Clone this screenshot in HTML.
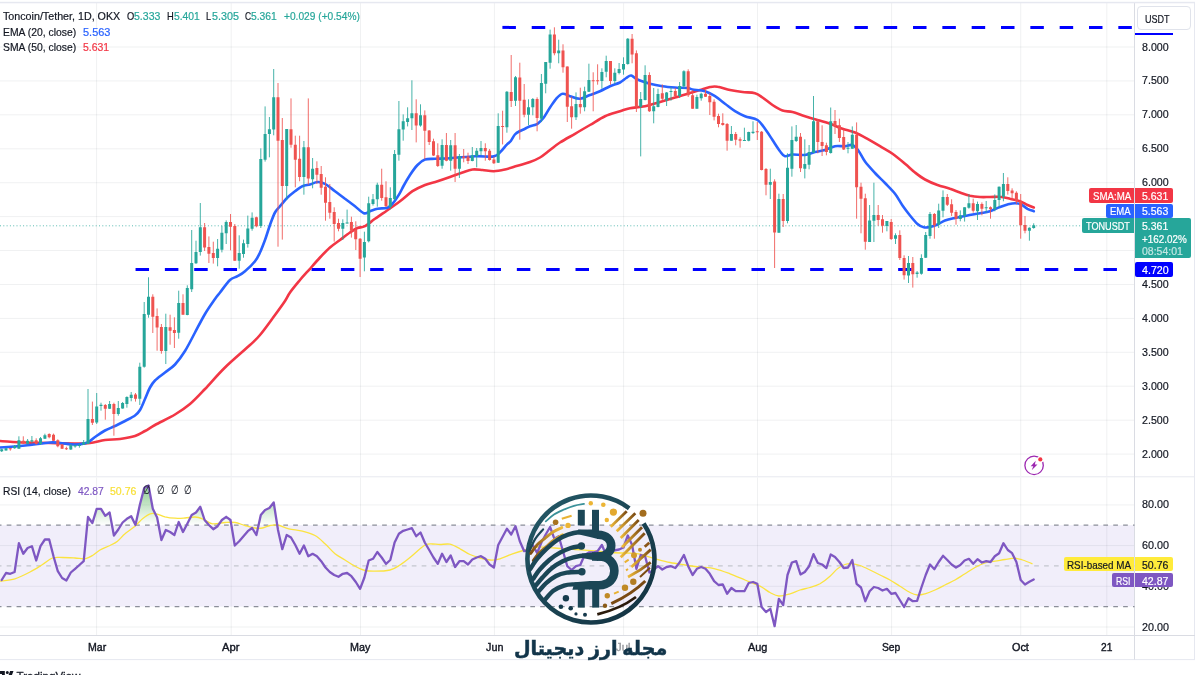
<!DOCTYPE html><html><head><meta charset="utf-8"><title>TONUSDT chart</title><style>
*{margin:0;padding:0;box-sizing:border-box}
html,body{width:1200px;height:675px;overflow:hidden;background:#fff}
body{font-family:"Liberation Sans","DejaVu Sans",sans-serif;color:#131722;position:relative}
#c{position:absolute;left:0;top:0;width:1200px;height:675px;overflow:hidden}
.t{position:absolute;white-space:nowrap;-webkit-text-stroke:0.2px currentColor;font-size:11px;line-height:14px;height:14px;transform-origin:0 50%}
.g{color:#26a69a}.b{color:#2962ff}.r{color:#f23645}.p{color:#7e57c2}.y{color:#f7df35}.w{color:#fff}
.bx{position:absolute;z-index:2}
.t{z-index:3}
.t.ax{z-index:1}
#fa{position:absolute;z-index:5;height:30px;line-height:30px;font-family:"DejaVu Sans",sans-serif;font-weight:bold;color:#12354a;direction:rtl;white-space:nowrap;word-spacing:-2px;transform-origin:0 50%;-webkit-text-stroke:0.5px #12354a}
</style></head><body><div id="c">
<svg width="1200" height="675" viewBox="0 0 1200 675" style="position:absolute;left:0;top:0">
<defs><linearGradient id="ob" gradientUnits="userSpaceOnUse" x1="0" y1="480" x2="0" y2="525.3"><stop offset="0" stop-color="#4caf50" stop-opacity="0.72"/><stop offset="1" stop-color="#4caf50" stop-opacity="0"/></linearGradient>
<clipPath id="above70"><rect x="0" y="477" width="1135" height="48.2"/></clipPath>
<linearGradient id="gold" x1="0" y1="1" x2="1" y2="0"><stop offset="0" stop-color="#7a4a12"/><stop offset="1" stop-color="#f0bb3a"/></linearGradient>
<linearGradient id="gold2" x1="0" y1="0" x2="1" y2="0"><stop offset="0" stop-color="#f0bb3a"/><stop offset="1" stop-color="#7a4a12"/></linearGradient>
<linearGradient id="teal" x1="0" y1="0" x2="1" y2="1"><stop offset="0" stop-color="#245a68"/><stop offset="1" stop-color="#12303f"/></linearGradient>
</defs>
<rect width="1200" height="675" fill="#fff"/>
<rect x="0" y="525.2" width="1134.5" height="81.4" fill="#f1eefa"/>
<path d="M96.6,3V476 M96.6,477.5V635 M231.2,3V476 M231.2,477.5V635 M360.5,3V476 M360.5,477.5V635 M494.4,3V476 M494.4,477.5V635 M623.6,3V476 M623.6,477.5V635 M757.5,3V476 M757.5,477.5V635 M891.6,3V476 M891.6,477.5V635 M1020.7,3V476 M1020.7,477.5V635 M1106.8,3V476 M1106.8,477.5V635 M0,47.0H1134.5 M0,80.9H1134.5 M0,114.8H1134.5 M0,148.8H1134.5 M0,182.7H1134.5 M0,216.6H1134.5 M0,250.5H1134.5 M0,284.5H1134.5 M0,318.4H1134.5 M0,352.3H1134.5 M0,386.2H1134.5 M0,420.2H1134.5 M0,454.1H1134.5 M0,504.9H1134.5 M0,545.6H1134.5 M0,586.3H1134.5 M0,627.0H1134.5" stroke="#2a3a4a" stroke-opacity="0.07" stroke-width="1" fill="none"/>
<path d="M1194.5,2.5V659.5 M0,659.6H1195" stroke="#e6e8f0" stroke-width="1" fill="none"/>
<path d="M0,476.8H1195" stroke="#e7e9ef" stroke-width="1" fill="none"/>
<path d="M0,635.5H1195 M1134.5,3V659.5" stroke="#dadce3" stroke-width="1" fill="none"/>
<rect x="0" y="1.8" width="1195" height="1.5" fill="#e6e8f0"/>
<path d="M0,225.8H1134" stroke="#26a69a" stroke-width="1" stroke-dasharray="1 2.3" opacity="0.75" fill="none"/>
<path d="M502.4,27.4H1134.5" stroke="#0000ff" stroke-width="3" stroke-dasharray="13.5 15.83" fill="none"/>
<path d="M135.55,269.4H1118" stroke="#0000ff" stroke-width="3" stroke-dasharray="13.5 15.83" fill="none"/>
<path d="M0.0,441.0 C4.2,441.2 16.7,442.2 25.0,442.5 C33.3,442.8 41.7,442.8 50.0,443.0 C58.3,443.2 68.3,443.5 75.0,443.5 C81.7,443.5 85.0,443.6 90.0,443.0 C95.0,442.4 100.0,440.7 105.0,440.0 C110.0,439.3 115.0,439.7 120.0,439.0 C125.0,438.3 130.8,437.3 135.0,436.0 C139.2,434.7 141.7,432.8 145.0,431.0 C148.3,429.2 150.0,427.8 155.0,425.0 C160.0,422.2 169.2,418.0 175.0,414.5 C180.8,411.0 185.0,408.2 190.0,404.0 C195.0,399.8 199.2,395.1 205.0,389.0 C210.8,382.9 217.5,374.8 225.0,367.5 C232.5,360.2 244.2,350.4 250.0,345.0 C255.8,339.6 255.8,340.0 260.0,335.0 C264.2,330.0 270.8,320.7 275.0,315.0 C279.2,309.3 282.5,304.8 285.0,301.0 C287.5,297.2 287.5,296.0 290.0,292.5 C292.5,289.0 296.7,284.0 300.0,280.0 C303.3,276.0 306.7,272.5 310.0,268.8 C313.3,265.0 316.7,261.0 320.0,257.5 C323.3,254.0 326.7,250.4 330.0,247.5 C333.3,244.6 336.7,242.5 340.0,240.0 C343.3,237.5 347.1,234.5 350.0,232.5 C352.9,230.5 355.0,229.0 357.5,228.0 C360.0,227.0 362.1,227.8 365.0,226.2 C367.9,224.7 371.4,221.3 375.0,218.8 C378.6,216.2 382.5,213.6 386.7,210.7 C390.9,207.8 395.7,204.5 400.0,201.3 C404.3,198.1 408.3,194.0 412.5,191.2 C416.7,188.5 420.8,186.7 425.0,185.0 C429.2,183.3 433.3,182.6 437.5,181.2 C441.7,179.9 445.8,178.5 450.0,177.0 C454.2,175.5 458.8,173.8 462.5,172.5 C466.2,171.2 469.2,169.9 472.5,169.5 C475.8,169.1 479.0,169.7 482.5,170.0 C486.0,170.3 490.0,171.3 493.8,171.2 C497.5,171.2 501.0,170.4 505.0,169.5 C509.0,168.6 513.3,167.0 517.5,165.8 C521.7,164.5 526.2,163.4 530.0,162.0 C533.8,160.6 536.7,159.5 540.0,157.5 C543.3,155.5 546.7,152.5 550.0,150.0 C553.3,147.5 555.8,145.2 560.0,142.5 C564.2,139.8 570.0,136.7 575.0,133.8 C580.0,130.8 585.0,127.9 590.0,125.0 C595.0,122.1 600.0,118.5 605.0,116.2 C610.0,114.0 615.8,112.6 620.0,111.2 C624.2,109.9 625.8,109.1 630.0,108.2 C634.2,107.4 640.0,107.3 645.0,106.2 C650.0,105.2 655.0,103.5 660.0,102.0 C665.0,100.5 670.0,99.0 675.0,97.5 C680.0,96.0 685.8,94.2 690.0,93.0 C694.2,91.8 696.7,91.0 700.0,90.0 C703.3,89.0 707.1,87.5 710.0,87.0 C712.9,86.5 714.2,86.2 717.5,86.8 C720.8,87.2 725.8,89.1 730.0,90.0 C734.2,90.9 738.3,91.5 742.5,92.0 C746.7,92.5 751.7,92.3 755.0,93.2 C758.3,94.2 759.6,95.5 762.5,97.5 C765.4,99.5 769.2,102.8 772.5,105.0 C775.8,107.2 779.2,109.3 782.5,110.5 C785.8,111.7 788.8,111.0 792.5,112.0 C796.2,113.0 800.8,114.9 805.0,116.2 C809.2,117.6 813.3,118.8 817.5,120.0 C821.7,121.2 825.8,122.3 830.0,123.8 C834.2,125.2 838.3,127.3 842.5,128.8 C846.7,130.2 850.8,130.8 855.0,132.5 C859.2,134.2 863.3,136.5 867.5,138.8 C871.7,141.0 875.8,143.8 880.0,146.2 C884.2,148.8 888.3,150.8 892.5,153.8 C896.7,156.7 901.2,160.6 905.0,163.8 C908.8,166.9 911.7,169.9 915.0,172.5 C918.3,175.1 921.2,177.4 925.0,179.5 C928.8,181.6 933.3,183.5 937.5,185.0 C941.7,186.5 946.2,187.5 950.0,188.8 C953.8,190.0 956.7,191.3 960.0,192.5 C963.3,193.7 966.7,195.0 970.0,195.8 C973.3,196.5 976.7,196.8 980.0,197.0 C983.3,197.2 986.7,197.0 990.0,197.0 C993.3,197.0 996.7,196.5 1000.0,196.8 C1003.3,197.0 1006.7,198.0 1010.0,198.8 C1013.3,199.5 1017.1,200.2 1020.0,201.2 C1022.9,202.3 1025.2,204.0 1027.5,205.0 C1029.8,206.0 1032.7,207.1 1033.8,207.5" stroke="#f23645" stroke-width="2.6" fill="none" stroke-linecap="round" stroke-linejoin="round"/>
<path d="M0.0,447.5 C4.2,447.2 16.7,446.3 25.0,445.5 C33.3,444.7 44.2,442.9 50.0,442.5 C55.8,442.1 55.8,442.7 60.0,443.0 C64.2,443.3 70.4,444.6 75.0,444.5 C79.6,444.4 84.2,443.8 87.5,442.5 C90.8,441.2 92.1,439.0 95.0,437.0 C97.9,435.0 101.7,432.3 105.0,430.5 C108.3,428.7 111.7,427.6 115.0,426.0 C118.3,424.4 121.7,422.8 125.0,421.0 C128.3,419.2 132.5,417.3 135.0,415.5 C137.5,413.7 138.3,412.8 140.0,410.0 C141.7,407.2 143.3,402.8 145.0,399.0 C146.7,395.2 148.3,390.6 150.0,387.5 C151.7,384.4 152.5,383.0 155.0,380.5 C157.5,378.0 161.7,375.2 165.0,372.5 C168.3,369.8 171.7,368.1 175.0,364.5 C178.3,360.9 181.7,356.3 185.0,351.0 C188.3,345.7 191.7,338.7 195.0,332.5 C198.3,326.3 201.7,319.6 205.0,314.0 C208.3,308.4 212.5,302.6 215.0,299.0 C217.5,295.4 217.5,295.7 220.0,292.5 C222.5,289.3 227.1,282.7 230.0,280.0 C232.9,277.3 235.0,277.7 237.5,276.2 C240.0,274.8 242.1,273.8 245.0,271.2 C247.9,268.8 252.5,264.4 255.0,261.2 C257.5,258.1 258.3,256.0 260.0,252.5 C261.7,249.0 263.3,244.6 265.0,240.0 C266.7,235.4 268.3,229.6 270.0,225.0 C271.7,220.4 273.3,215.6 275.0,212.5 C276.7,209.4 277.9,208.8 280.0,206.2 C282.1,203.8 285.0,200.0 287.5,197.5 C290.0,195.0 292.5,193.1 295.0,191.2 C297.5,189.4 300.0,187.4 302.5,186.2 C305.0,185.1 307.5,185.2 310.0,184.5 C312.5,183.8 315.0,182.1 317.5,182.0 C320.0,181.9 322.1,182.2 325.0,183.8 C327.9,185.3 331.7,188.8 335.0,191.2 C338.3,193.8 341.7,196.2 345.0,198.8 C348.3,201.2 351.9,203.8 355.0,206.2 C358.1,208.7 361.2,212.4 363.8,213.2 C366.2,214.1 367.7,212.0 370.0,211.2 C372.3,210.5 374.6,209.3 377.5,208.7 C380.4,208.1 384.8,208.8 387.5,207.8 C390.2,206.8 391.5,204.9 393.5,202.5 C395.5,200.1 398.0,196.1 399.7,193.3 C401.4,190.6 401.8,189.1 403.5,186.0 C405.2,182.9 407.7,178.5 410.0,175.0 C412.3,171.5 415.0,167.6 417.5,165.0 C420.0,162.4 422.1,160.5 425.0,159.5 C427.9,158.5 430.8,159.0 435.0,158.8 C439.2,158.5 443.3,158.7 450.0,158.2 C456.7,157.8 467.7,156.6 475.0,156.2 C482.3,155.9 489.4,157.2 493.8,156.4 C498.1,155.6 498.6,153.5 500.8,151.5 C503.0,149.5 505.1,146.3 506.8,144.6 C508.5,142.8 509.5,142.7 510.8,141.0 C512.1,139.3 513.4,136.2 514.9,134.5 C516.4,132.8 518.3,131.9 520.0,131.0 C521.7,130.1 523.3,129.6 525.0,128.8 C526.7,128.0 527.9,127.1 530.0,126.2 C532.1,125.4 535.2,125.2 537.5,123.8 C539.8,122.3 541.7,120.2 543.8,117.5 C545.8,114.8 547.9,110.6 550.0,107.5 C552.1,104.4 554.2,101.0 556.2,98.8 C558.3,96.5 560.2,94.2 562.5,93.8 C564.8,93.3 567.1,95.4 570.0,96.2 C572.9,97.1 576.7,99.0 580.0,98.8 C583.3,98.5 586.7,96.2 590.0,95.0 C593.3,93.8 596.7,92.7 600.0,91.2 C603.3,89.8 606.7,87.7 610.0,86.2 C613.3,84.8 617.3,83.9 620.0,82.5 C622.7,81.1 624.4,79.2 626.2,78.0 C628.1,76.8 629.4,75.2 631.2,75.5 C633.1,75.8 634.4,78.1 637.5,79.5 C640.6,80.9 645.8,82.6 650.0,83.8 C654.2,84.9 658.3,85.6 662.5,86.2 C666.7,86.9 670.8,87.2 675.0,87.5 C679.2,87.8 684.6,87.7 687.5,88.0 C690.4,88.3 689.6,89.0 692.5,89.5 C695.4,90.0 701.2,90.1 705.0,91.2 C708.8,92.4 711.7,94.2 715.0,96.2 C718.3,98.3 721.7,101.2 725.0,103.8 C728.3,106.2 731.7,109.2 735.0,111.2 C738.3,113.3 741.2,114.8 745.0,116.2 C748.8,117.7 754.2,117.9 757.5,120.0 C760.8,122.1 762.5,125.4 765.0,128.8 C767.5,132.1 770.0,136.2 772.5,140.0 C775.0,143.8 777.9,148.5 780.0,151.2 C782.1,154.0 782.9,155.7 785.0,156.2 C787.1,156.8 789.2,154.7 792.5,154.5 C795.8,154.3 801.2,155.4 805.0,155.0 C808.8,154.6 811.7,152.8 815.0,152.0 C818.3,151.2 821.7,151.0 825.0,150.0 C828.3,149.0 831.7,146.9 835.0,146.2 C838.3,145.6 842.1,146.5 845.0,146.2 C847.9,146.0 850.2,144.2 852.5,145.0 C854.8,145.8 856.7,148.5 858.8,151.2 C860.8,154.0 862.3,157.9 865.0,161.5 C867.7,165.1 871.7,169.4 875.0,173.0 C878.3,176.6 881.7,179.5 885.0,183.0 C888.3,186.5 892.1,190.0 895.0,193.8 C897.9,197.5 900.0,201.9 902.5,205.5 C905.0,209.1 907.5,212.4 910.0,215.5 C912.5,218.6 915.2,222.0 917.5,224.0 C919.8,226.0 921.7,226.8 923.8,227.3 C925.8,227.8 927.7,227.5 930.0,227.0 C932.3,226.5 935.0,225.6 937.5,224.5 C940.0,223.4 942.1,221.6 945.0,220.5 C947.9,219.4 951.2,218.8 955.0,218.0 C958.8,217.2 963.3,216.3 967.5,215.5 C971.7,214.7 976.2,214.0 980.0,213.2 C983.8,212.5 986.7,212.3 990.0,211.2 C993.3,210.2 997.1,208.1 1000.0,207.0 C1002.9,205.9 1005.0,205.1 1007.5,204.5 C1010.0,203.9 1012.7,203.2 1015.0,203.2 C1017.3,203.2 1019.2,203.6 1021.2,204.5 C1023.3,205.4 1025.4,207.6 1027.5,208.8 C1029.6,209.9 1032.7,210.8 1033.8,211.2" stroke="#2962ff" stroke-width="2.6" fill="none" stroke-linecap="round" stroke-linejoin="round"/>
<path d="M1.7,448.7V452.0 M6.0,448.0V450.6 M14.6,445.0V448.7 M18.9,436.3V448.7 M27.6,439.0V444.7 M31.9,436.0V442.7 M40.5,437.0V445.0 M44.9,433.7V439.0 M70.8,444.0V450.0 M75.1,444.7V447.7 M79.4,443.7V447.7 M83.7,440.0V445.0 M88.0,389.0V444.0 M96.7,393.0V424.0 M101.0,402.7V410.7 M109.6,401.0V409.0 M118.3,401.0V415.7 M122.6,402.0V408.7 M126.9,396.3V407.7 M131.2,392.0V401.3 M139.8,362.7V405.0 M144.2,302.0V367.7 M148.5,277.3V317.7 M165.8,313.7V364.0 M178.7,290.7V338.7 M187.3,285.3V315.3 M191.7,230.0V292.0 M196.0,240.7V264.0 M200.3,203.0V255.6 M217.6,239.0V266.3 M221.9,225.7V252.4 M226.2,220.4V244.0 M239.2,235.3V268.7 M243.5,239.6V257.7 M247.8,215.6V247.6 M252.1,212.4V230.7 M260.8,148.3V228.0 M265.1,106.4V161.6 M269.4,117.0V157.3 M273.7,69.0V135.3 M286.7,129.0V200.0 M303.9,141.0V194.7 M312.6,158.0V188.3 M342.8,219.3V240.0 M347.1,209.6V223.6 M364.4,231.7V271.3 M368.7,196.7V242.4 M373.0,194.0V205.6 M377.3,182.7V206.7 M390.3,187.3V209.3 M394.6,150.0V200.0 M398.9,101.0V160.7 M403.2,114.4V140.7 M407.6,107.3V126.4 M411.9,80.3V130.0 M420.5,104.3V126.7 M442.1,139.3V168.7 M450.7,140.0V170.7 M459.4,154.0V178.0 M472.3,147.0V161.3 M476.7,148.0V167.3 M481.0,141.0V155.3 M498.2,113.3V163.0 M506.9,91.0V132.7 M515.5,76.0V106.0 M528.5,99.3V125.3 M532.8,98.0V115.3 M541.4,74.0V122.0 M545.7,62.0V93.3 M550.1,29.6V68.7 M558.7,39.7V63.3 M576.0,92.4V120.0 M584.6,86.7V111.3 M588.9,63.7V92.0 M601.9,68.3V88.7 M606.2,55.7V77.3 M614.8,68.3V84.0 M619.1,63.0V74.4 M623.5,57.3V74.7 M627.8,38.0V64.7 M640.7,92.0V156.4 M645.1,65.3V100.4 M653.7,88.0V123.3 M658.0,88.7V107.3 M666.6,92.0V106.0 M671.0,87.0V100.7 M679.6,82.0V98.0 M683.9,70.3V88.7 M696.9,94.7V108.7 M701.2,92.7V100.7 M731.4,126.0V140.7 M744.4,127.7V140.7 M748.7,131.7V141.3 M753.0,121.3V134.0 M770.3,168.7V199.0 M778.9,193.7V232.7 M787.5,153.3V223.3 M791.9,126.4V176.7 M796.2,125.0V142.0 M804.8,139.3V178.4 M809.1,145.0V169.3 M813.5,96.0V152.7 M830.7,107.5V153.6 M848.0,142.0V153.3 M852.3,126.4V148.7 M869.6,205.0V242.0 M873.9,182.7V242.0 M886.9,221.0V231.3 M895.5,233.3V244.0 M908.5,256.0V283.0 M917.1,271.0V277.7 M921.4,254.3V274.7 M925.7,232.0V258.0 M930.0,212.0V238.7 M938.7,203.7V228.0 M943.0,190.4V217.3 M960.3,210.4V221.3 M964.6,207.3V221.6 M968.9,194.4V208.7 M977.5,201.6V220.0 M986.2,201.0V212.7 M994.8,194.4V211.3 M999.1,186.4V207.3 M1003.4,173.0V201.3 M1029.4,227.3V240.7 M1033.7,223.3V228.7" stroke="#26a69a" stroke-width="1" fill="none" opacity="0.85"/>
<path d="M10.3,448.0V450.7 M23.3,436.3V444.0 M36.2,438.3V444.7 M49.2,433.3V438.3 M53.5,433.6V441.0 M57.8,439.3V447.3 M62.1,444.0V449.0 M66.4,446.7V450.0 M92.4,401.6V425.0 M105.3,404.0V419.7 M113.9,402.7V435.7 M135.5,393.0V401.6 M152.8,294.3V333.0 M157.1,308.4V350.7 M161.4,324.0V353.7 M170.1,314.7V344.7 M174.4,317.3V348.0 M183.0,294.3V314.7 M204.6,223.0V251.0 M208.9,236.4V263.0 M213.3,241.7V263.6 M230.5,214.0V250.3 M234.8,224.0V260.7 M256.4,216.7V227.3 M278.0,83.0V246.7 M282.3,118.0V239.6 M291.0,98.4V147.7 M295.3,135.7V187.3 M299.6,135.7V181.3 M308.3,98.4V184.7 M316.9,161.3V184.0 M321.2,166.0V194.7 M325.5,177.3V220.7 M329.8,184.0V218.7 M334.2,207.3V241.6 M338.5,218.7V231.3 M351.4,216.7V237.6 M355.8,221.3V250.0 M360.1,238.0V277.0 M381.7,168.7V200.7 M386.0,181.3V207.0 M416.2,99.3V142.4 M424.8,110.4V159.3 M429.2,130.0V145.0 M433.5,138.7V156.0 M437.8,143.3V167.0 M446.4,133.0V161.3 M455.1,133.0V182.0 M463.7,149.0V162.3 M468.0,152.7V164.0 M485.3,143.3V160.7 M489.6,149.0V160.7 M493.9,156.7V164.0 M502.6,110.7V144.4 M511.2,55.0V107.0 M519.8,62.7V139.7 M524.2,84.0V117.3 M537.1,97.3V131.3 M554.4,27.3V55.3 M563.0,44.3V72.7 M567.3,66.4V122.0 M571.6,96.7V128.7 M580.3,87.7V113.7 M593.2,72.3V111.3 M597.6,64.3V84.7 M610.5,61.0V84.7 M632.1,34.0V63.3 M636.4,50.4V112.0 M649.4,72.3V112.0 M662.3,84.4V100.4 M675.3,88.0V96.7 M688.2,69.3V97.0 M692.6,90.0V108.7 M705.5,89.7V97.0 M709.8,93.0V115.0 M714.1,99.3V120.4 M718.5,113.7V127.3 M722.8,113.3V125.7 M727.1,123.0V150.7 M735.7,132.0V145.3 M740.1,137.3V147.7 M757.3,122.0V140.0 M761.6,131.0V170.4 M766.0,168.0V195.3 M774.6,179.3V268.0 M783.2,194.0V227.0 M800.5,133.0V172.0 M817.8,119.0V153.3 M822.1,125.3V156.0 M826.4,142.7V155.3 M835.0,110.0V134.0 M839.4,118.7V142.0 M843.7,129.3V150.0 M856.6,122.4V218.7 M861.0,182.7V233.3 M865.3,193.7V249.7 M878.2,205.0V225.7 M882.5,215.0V232.7 M891.2,219.0V240.0 M899.8,230.3V260.0 M904.1,255.3V279.6 M912.8,257.0V287.6 M934.4,213.0V238.7 M947.3,194.0V206.0 M951.6,199.3V216.0 M956.0,210.0V224.7 M973.2,198.7V212.7 M981.9,202.4V215.3 M990.5,206.4V218.7 M1007.8,177.3V194.7 M1012.1,188.3V200.0 M1016.4,191.3V204.0 M1020.7,194.0V238.7 M1025.0,216.0V233.3" stroke="#ef5350" stroke-width="1" fill="none" opacity="0.85"/>
<path d="M0.2,449.3h3V451.3h-3z M4.5,448.3h3V450.4h-3z M13.1,446.0h3V448.3h-3z M17.4,440.3h3V448.7h-3z M26.1,440.7h3V443.7h-3z M30.4,440.3h3V441.6h-3z M39.0,438.3h3V444.0h-3z M43.4,435.3h3V438.7h-3z M69.3,445.3h3V449.6h-3z M73.6,445.0h3V446.4h-3z M77.9,444.7h3V446.0h-3z M82.2,442.0h3V444.7h-3z M86.5,419.0h3V444.0h-3z M95.2,406.4h3V422.4h-3z M99.5,404.7h3V406.0h-3z M108.1,404.0h3V408.7h-3z M116.8,408.0h3V414.0h-3z M121.1,403.0h3V408.4h-3z M125.4,397.0h3V404.0h-3z M129.7,394.7h3V398.0h-3z M138.3,366.7h3V398.7h-3z M142.7,314.0h3V366.7h-3z M147.0,296.7h3V314.7h-3z M164.3,327.0h3V351.0h-3z M177.2,303.0h3V332.7h-3z M185.8,288.0h3V315.0h-3z M190.2,263.0h3V289.3h-3z M194.5,252.0h3V263.3h-3z M198.8,227.3h3V252.0h-3z M216.1,248.7h3V258.0h-3z M220.4,232.7h3V249.7h-3z M224.7,222.0h3V233.3h-3z M237.7,253.0h3V260.7h-3z M242.0,243.3h3V254.0h-3z M246.3,228.4h3V244.0h-3z M250.6,217.7h3V228.7h-3z M259.3,159.0h3V226.0h-3z M263.6,134.0h3V159.7h-3z M267.9,129.3h3V134.0h-3z M272.2,97.3h3V129.6h-3z M285.2,129.0h3V186.0h-3z M302.4,147.3h3V177.0h-3z M311.1,168.7h3V179.3h-3z M341.3,223.0h3V228.7h-3z M345.6,222.6h3V223.6h-3z M362.9,242.0h3V257.6h-3z M367.2,203.3h3V241.3h-3z M371.5,199.3h3V204.0h-3z M375.8,184.7h3V199.3h-3z M388.8,198.0h3V207.0h-3z M393.1,154.0h3V199.3h-3z M397.4,129.3h3V154.7h-3z M401.7,121.3h3V129.6h-3z M406.1,118.3h3V122.0h-3z M410.4,113.3h3V118.3h-3z M419.0,115.3h3V125.6h-3z M440.6,145.0h3V165.7h-3z M449.2,145.3h3V160.7h-3z M457.9,156.0h3V168.7h-3z M470.8,155.3h3V161.0h-3z M475.2,150.7h3V156.0h-3z M479.5,148.0h3V151.3h-3z M496.7,126.0h3V162.7h-3z M505.4,91.7h3V127.3h-3z M514.0,77.3h3V100.7h-3z M527.0,107.3h3V114.7h-3z M531.3,99.0h3V107.3h-3z M539.9,83.0h3V118.7h-3z M544.2,62.0h3V83.7h-3z M548.6,34.4h3V62.7h-3z M557.2,50.4h3V53.3h-3z M574.5,104.0h3V117.3h-3z M583.1,91.3h3V107.3h-3z M587.4,80.0h3V91.7h-3z M600.4,72.0h3V81.0h-3z M604.7,61.0h3V71.7h-3z M613.3,72.7h3V81.0h-3z M617.6,69.0h3V73.0h-3z M622.0,64.0h3V69.6h-3z M626.3,38.7h3V64.0h-3z M639.2,99.0h3V106.7h-3z M643.6,75.0h3V100.0h-3z M652.2,106.3h3V111.3h-3z M656.5,94.0h3V107.0h-3z M665.1,92.4h3V100.4h-3z M669.5,91.0h3V92.0h-3z M678.1,86.0h3V96.0h-3z M682.4,71.3h3V86.3h-3z M695.4,97.0h3V108.7h-3z M699.7,93.7h3V98.3h-3z M729.9,134.0h3V140.7h-3z M742.9,140.0h3V141.0h-3z M747.2,132.0h3V140.7h-3z M751.5,131.7h3V133.0h-3z M768.8,182.0h3V184.7h-3z M777.4,199.0h3V232.7h-3z M786.0,167.7h3V221.0h-3z M790.4,140.0h3V168.7h-3z M794.7,136.7h3V141.0h-3z M803.3,164.0h3V168.7h-3z M807.6,152.0h3V164.7h-3z M812.0,121.3h3V152.7h-3z M829.2,121.3h3V153.0h-3z M846.5,147.7h3V148.7h-3z M850.8,134.7h3V148.7h-3z M868.1,220.4h3V242.0h-3z M872.4,215.0h3V220.7h-3z M885.4,221.0h3V226.0h-3z M894.0,235.3h3V238.7h-3z M907.0,263.0h3V275.6h-3z M915.6,272.4h3V274.0h-3z M919.9,258.0h3V273.7h-3z M924.2,235.0h3V257.7h-3z M928.5,214.0h3V236.0h-3z M937.2,210.4h3V224.7h-3z M941.5,197.0h3V210.7h-3z M958.8,215.3h3V219.0h-3z M963.1,207.3h3V215.7h-3z M967.4,203.3h3V207.7h-3z M976.0,204.0h3V211.3h-3z M984.7,207.3h3V208.3h-3z M993.3,200.0h3V209.3h-3z M997.6,186.7h3V200.0h-3z M1001.9,184.0h3V196.7h-3z M1027.9,227.7h3V230.7h-3z M1032.2,225.3h3V228.0h-3z" fill="#26a69a"/>
<path d="M8.8,448.2h3V449.2h-3z M21.8,440.7h3V443.3h-3z M34.7,440.3h3V444.0h-3z M47.7,434.0h3V437.3h-3z M52.0,434.7h3V440.7h-3z M56.3,440.3h3V446.3h-3z M60.6,444.7h3V448.7h-3z M64.9,448.2h3V449.2h-3z M90.9,419.0h3V422.7h-3z M103.8,405.0h3V408.7h-3z M112.4,404.0h3V414.0h-3z M134.0,394.4h3V398.7h-3z M151.3,296.7h3V316.7h-3z M155.6,316.0h3V327.6h-3z M159.9,327.0h3V351.0h-3z M168.6,327.3h3V330.7h-3z M172.9,330.0h3V333.0h-3z M181.5,303.0h3V314.7h-3z M203.1,227.3h3V247.6h-3z M207.4,247.0h3V253.7h-3z M211.8,253.0h3V258.0h-3z M229.0,222.0h3V226.7h-3z M233.3,226.0h3V260.7h-3z M254.9,217.3h3V226.3h-3z M276.5,97.3h3V140.7h-3z M280.8,140.0h3V186.0h-3z M289.5,129.3h3V144.7h-3z M293.8,144.7h3V159.7h-3z M298.1,158.7h3V177.0h-3z M306.8,147.3h3V178.4h-3z M315.4,168.0h3V174.7h-3z M319.7,174.0h3V187.7h-3z M324.0,186.7h3V202.7h-3z M328.3,202.0h3V212.7h-3z M332.7,212.0h3V224.0h-3z M337.0,223.0h3V228.7h-3z M349.9,222.0h3V230.7h-3z M354.2,230.0h3V239.3h-3z M358.6,238.7h3V258.7h-3z M380.2,184.7h3V198.0h-3z M384.5,197.3h3V206.3h-3z M414.7,113.3h3V125.6h-3z M423.3,115.3h3V130.7h-3z M427.7,130.4h3V142.0h-3z M432.0,141.3h3V155.6h-3z M436.3,155.3h3V166.0h-3z M444.9,145.0h3V160.7h-3z M453.6,145.3h3V168.7h-3z M462.2,156.4h3V158.0h-3z M466.5,156.4h3V161.0h-3z M483.8,148.0h3V151.3h-3z M488.1,150.7h3V160.0h-3z M492.4,159.6h3V163.3h-3z M501.1,126.0h3V127.0h-3z M509.7,92.0h3V101.0h-3z M518.3,77.6h3V100.7h-3z M522.7,99.7h3V114.7h-3z M535.6,99.0h3V118.0h-3z M552.9,34.4h3V53.3h-3z M561.5,50.4h3V67.3h-3z M565.8,66.4h3V106.7h-3z M570.1,106.3h3V117.3h-3z M578.8,104.0h3V107.3h-3z M591.7,80.3h3V81.3h-3z M596.1,80.3h3V81.3h-3z M609.0,61.0h3V81.0h-3z M630.6,38.7h3V54.4h-3z M634.9,53.3h3V107.0h-3z M647.9,75.0h3V111.3h-3z M660.8,93.3h3V98.7h-3z M673.8,91.0h3V96.0h-3z M686.7,71.3h3V95.3h-3z M691.1,95.3h3V108.7h-3z M704.0,93.7h3V96.7h-3z M708.3,96.0h3V102.3h-3z M712.6,101.7h3V116.7h-3z M717.0,116.0h3V124.0h-3z M721.3,123.0h3V125.0h-3z M725.6,124.0h3V140.7h-3z M734.2,134.0h3V139.7h-3z M738.6,139.3h3V140.7h-3z M755.8,131.3h3V132.3h-3z M760.1,131.7h3V170.0h-3z M764.5,169.0h3V184.7h-3z M773.1,181.6h3V232.4h-3z M781.7,199.0h3V221.0h-3z M799.0,136.7h3V168.3h-3z M816.3,121.3h3V142.0h-3z M820.6,142.0h3V146.0h-3z M824.9,145.3h3V152.0h-3z M833.5,121.0h3V126.0h-3z M837.9,125.3h3V138.0h-3z M842.2,137.0h3V149.6h-3z M855.1,134.7h3V187.3h-3z M859.5,186.7h3V198.7h-3z M863.8,198.3h3V241.7h-3z M876.7,215.0h3V220.0h-3z M881.0,219.3h3V225.7h-3z M889.7,222.0h3V239.0h-3z M898.3,235.0h3V258.0h-3z M902.6,258.0h3V275.3h-3z M911.3,263.0h3V274.3h-3z M932.9,214.0h3V225.3h-3z M945.8,197.0h3V204.7h-3z M950.1,204.3h3V212.7h-3z M954.5,212.0h3V218.7h-3z M971.7,203.3h3V210.7h-3z M980.4,204.0h3V208.7h-3z M989.0,207.3h3V209.3h-3z M1006.3,184.0h3V191.0h-3z M1010.6,190.4h3V193.3h-3z M1014.9,192.7h3V201.3h-3z M1019.2,201.3h3V225.3h-3z M1023.5,225.0h3V230.7h-3z" fill="#ef5350"/>
<path d="M-3.2,525.2H1134.5 M-3.2,606.6H1134.5" stroke="#8b8e99" stroke-width="1.3" stroke-dasharray="4.7 5.18" fill="none"/>
<path d="M-3.2,565.9H1134.5" stroke="#c4c6ce" stroke-width="1.2" stroke-dasharray="4.7 5.18" fill="none"/>
<path d="M1.7,580.0 L6.0,573.0 L10.3,573.8 L14.6,572.0 L18.9,543.2 L23.3,553.8 L27.6,548.0 L31.9,546.2 L36.2,560.5 L40.5,546.2 L44.9,539.5 L49.2,539.5 L53.5,556.2 L57.8,571.2 L62.1,578.0 L66.4,580.5 L70.8,572.5 L75.1,568.8 L79.4,565.0 L83.7,561.2 L88.0,517.0 L92.4,523.0 L96.7,508.8 L101.0,508.8 L105.3,515.8 L109.6,512.5 L113.9,535.5 L118.3,529.5 L122.6,522.5 L126.9,518.8 L131.2,516.2 L135.5,525.0 L139.8,505.0 L144.2,488.0 L148.5,485.5 L152.8,508.8 L157.1,517.5 L161.4,540.0 L165.8,530.0 L170.1,532.0 L174.4,535.0 L178.7,522.0 L183.0,532.0 L187.3,523.8 L191.7,515.0 L196.0,512.5 L200.3,506.8 L204.6,520.0 L208.9,525.0 L213.3,529.2 L217.6,526.2 L221.9,520.0 L226.2,516.8 L230.5,520.0 L234.8,545.5 L239.2,541.2 L243.5,536.2 L247.8,531.2 L252.1,528.0 L256.4,535.0 L260.8,515.0 L265.1,510.0 L269.4,508.0 L273.7,502.5 L278.0,530.0 L282.3,549.2 L286.7,535.0 L291.0,537.5 L295.3,545.0 L299.6,553.8 L303.9,545.5 L308.3,556.2 L312.6,553.8 L316.9,556.2 L321.2,561.2 L325.5,567.5 L329.8,572.0 L334.2,575.0 L338.5,576.8 L342.8,573.8 L347.1,573.0 L351.4,576.2 L355.8,582.0 L360.1,588.8 L364.4,577.5 L368.7,560.5 L373.0,558.8 L377.3,552.0 L381.7,557.5 L386.0,563.8 L390.3,560.0 L394.6,542.5 L398.9,533.8 L403.2,530.8 L407.6,529.5 L411.9,528.2 L416.2,536.2 L420.5,532.5 L424.8,542.5 L429.2,550.0 L433.5,557.5 L437.8,563.8 L442.1,553.8 L446.4,562.0 L450.7,555.5 L455.1,567.0 L459.4,561.2 L463.7,561.2 L468.0,564.5 L472.3,559.5 L476.7,557.5 L481.0,556.2 L485.3,558.8 L489.6,564.5 L493.9,567.5 L498.2,545.0 L506.9,528.8 L511.2,534.5 L515.5,526.2 L519.8,541.2 L524.2,551.2 L528.5,550.0 L532.8,545.0 L537.1,553.0 L541.4,542.5 L545.7,534.5 L550.1,527.0 L554.4,538.8 L558.7,536.2 L563.0,551.2 L567.3,566.2 L571.6,570.0 L576.0,566.2 L580.3,565.0 L584.6,555.0 L588.9,552.5 L593.2,552.5 L597.6,551.2 L601.9,545.0 L606.2,555.0 L610.5,551.2 L619.1,549.5 L623.5,547.5 L627.8,535.5 L632.1,545.0 L636.4,568.8 L640.7,555.0 L645.1,556.2 L649.4,572.5 L653.7,570.0 L658.0,566.2 L662.3,569.5 L666.6,567.0 L671.0,566.2 L675.3,568.0 L679.6,562.5 L683.9,555.0 L688.2,566.2 L692.6,575.0 L696.9,568.8 L701.2,567.0 L705.5,568.8 L709.8,573.8 L714.1,581.2 L718.5,585.0 L722.8,584.5 L727.1,593.8 L731.4,588.0 L735.7,591.2 L740.1,591.2 L744.4,591.2 L748.7,583.0 L753.0,582.0 L757.3,583.8 L761.6,607.0 L766.0,612.0 L770.3,608.8 L774.6,626.2 L778.9,598.8 L783.2,605.0 L787.5,575.0 L791.9,562.5 L796.2,561.2 L800.5,574.5 L804.8,572.0 L809.1,566.2 L813.5,554.2 L817.8,563.0 L822.1,564.5 L826.4,568.0 L830.7,554.5 L835.0,557.0 L839.4,562.0 L843.7,568.0 L848.0,567.5 L852.3,560.0 L856.6,583.8 L861.0,587.5 L865.3,601.2 L869.6,591.2 L873.9,587.0 L878.2,588.0 L882.5,590.5 L886.9,588.8 L891.2,593.8 L895.5,593.0 L899.8,600.0 L904.1,607.0 L908.5,598.2 L912.8,601.2 L917.1,600.8 L921.4,587.5 L925.7,575.0 L930.0,564.5 L934.4,569.2 L938.7,562.0 L943.0,555.8 L947.3,560.0 L951.6,564.5 L956.0,567.5 L960.3,565.0 L964.6,560.5 L968.9,558.8 L973.2,563.8 L977.5,559.2 L981.9,562.5 L986.2,561.2 L990.5,562.0 L994.8,556.2 L999.1,553.2 L1003.4,543.2 L1007.8,550.0 L1012.1,553.2 L1016.4,562.0 L1020.7,580.0 L1025.0,584.5 L1029.4,581.8 L1033.7,579.5 L1033.7,525.2 L1.7,525.2z" fill="url(#ob)" clip-path="url(#above70)"/>
<path d="M0.0,581.2 C2.5,580.8 10.0,580.3 15.0,578.8 C20.0,577.2 25.4,574.4 30.0,572.0 C34.6,569.6 38.8,566.8 42.5,564.5 C46.2,562.2 49.2,559.2 52.5,558.0 C55.8,556.8 58.8,557.5 62.5,557.5 C66.2,557.5 71.2,557.8 75.0,558.0 C78.8,558.2 82.1,559.2 85.0,558.8 C87.9,558.3 90.0,557.0 92.5,555.5 C95.0,554.0 97.1,551.7 100.0,550.0 C102.9,548.3 107.1,547.0 110.0,545.5 C112.9,544.0 115.0,543.2 117.5,541.2 C120.0,539.3 122.1,536.2 125.0,533.8 C127.9,531.2 132.1,528.8 135.0,526.2 C137.9,523.8 140.0,520.8 142.5,518.8 C145.0,516.7 147.7,514.6 150.0,513.8 C152.3,512.9 153.8,513.2 156.2,513.8 C158.8,514.2 161.9,516.0 165.0,516.8 C168.1,517.5 171.7,518.0 175.0,518.2 C178.3,518.5 181.7,518.2 185.0,518.0 C188.3,517.8 192.1,516.9 195.0,517.0 C197.9,517.1 199.6,517.6 202.5,518.8 C205.4,519.9 208.8,523.1 212.5,523.8 C216.2,524.4 221.2,522.7 225.0,522.5 C228.8,522.3 231.7,522.0 235.0,522.5 C238.3,523.0 241.7,524.6 245.0,525.5 C248.3,526.4 252.1,527.6 255.0,528.0 C257.9,528.4 260.0,528.4 262.5,528.0 C265.0,527.6 267.5,526.0 270.0,525.5 C272.5,525.0 274.4,524.5 277.5,525.0 C280.6,525.5 284.6,527.7 288.8,528.8 C292.9,529.8 298.1,530.1 302.5,531.2 C306.9,532.4 311.2,533.4 315.0,535.5 C318.8,537.6 321.7,540.7 325.0,543.8 C328.3,546.8 331.7,551.0 335.0,553.8 C338.3,556.5 341.7,557.9 345.0,560.0 C348.3,562.1 351.7,564.5 355.0,566.2 C358.3,568.0 361.7,569.7 365.0,570.5 C368.3,571.3 370.8,571.3 375.0,571.2 C379.2,571.2 385.8,571.0 390.0,570.0 C394.2,569.0 396.7,567.1 400.0,565.0 C403.3,562.9 406.7,560.2 410.0,557.5 C413.3,554.8 417.3,550.9 420.0,548.8 C422.7,546.6 424.2,545.3 426.2,544.5 C428.3,543.7 430.2,544.0 432.5,544.0 C434.8,544.0 437.1,544.5 440.0,544.5 C442.9,544.5 446.7,543.5 450.0,544.2 C453.3,545.0 456.7,547.0 460.0,548.8 C463.3,550.5 466.7,553.0 470.0,554.5 C473.3,556.0 476.7,557.1 480.0,558.0 C483.3,558.9 486.9,559.8 490.0,560.0 C493.1,560.2 495.0,560.2 498.8,559.1 C502.5,558.1 508.1,555.3 512.5,553.8 C516.9,552.2 520.8,551.1 525.0,550.0 C529.2,548.9 532.5,547.3 537.5,547.0 C542.5,546.7 548.8,547.6 555.0,548.0 C561.2,548.4 568.3,549.0 575.0,549.5 C581.7,550.0 588.8,550.5 595.0,551.0 C601.2,551.5 606.7,552.1 612.5,552.5 C618.3,552.9 625.4,553.0 630.0,553.2 C634.6,553.5 635.8,553.3 640.0,554.2 C644.2,555.2 650.0,557.4 655.0,558.8 C660.0,560.1 665.0,561.5 670.0,562.5 C675.0,563.5 680.0,564.2 685.0,565.0 C690.0,565.8 695.0,566.4 700.0,567.0 C705.0,567.6 710.0,567.6 715.0,568.8 C720.0,569.9 725.0,571.9 730.0,573.8 C735.0,575.6 740.0,577.9 745.0,580.0 C750.0,582.1 755.8,584.2 760.0,586.2 C764.2,588.3 766.9,590.9 770.0,592.5 C773.1,594.1 775.4,595.8 778.8,596.0 C782.1,596.2 786.5,594.8 790.0,593.8 C793.5,592.8 796.7,591.0 800.0,590.0 C803.3,589.0 806.7,588.5 810.0,587.5 C813.3,586.5 816.7,585.6 820.0,583.8 C823.3,581.9 827.1,578.8 830.0,576.2 C832.9,573.8 835.0,570.7 837.5,568.8 C840.0,566.8 842.5,565.3 845.0,564.5 C847.5,563.7 850.0,563.6 852.5,563.8 C855.0,563.9 857.1,564.5 860.0,565.5 C862.9,566.5 866.7,568.4 870.0,570.0 C873.3,571.6 876.7,573.3 880.0,575.0 C883.3,576.7 886.7,578.1 890.0,580.0 C893.3,581.9 896.7,584.2 900.0,586.2 C903.3,588.3 907.1,591.0 910.0,592.5 C912.9,594.0 915.0,594.8 917.5,595.0 C920.0,595.2 922.1,594.6 925.0,593.8 C927.9,592.9 931.7,591.5 935.0,590.0 C938.3,588.5 941.7,586.7 945.0,585.0 C948.3,583.3 951.7,581.9 955.0,580.0 C958.3,578.1 961.7,575.8 965.0,573.8 C968.3,571.7 971.7,569.3 975.0,567.5 C978.3,565.7 981.7,564.0 985.0,563.0 C988.3,562.0 991.7,561.8 995.0,561.2 C998.3,560.7 1001.7,560.0 1005.0,559.5 C1008.3,559.0 1012.1,558.2 1015.0,558.2 C1017.9,558.3 1019.6,559.1 1022.5,560.0 C1025.4,560.9 1030.8,563.1 1032.5,563.8" stroke="#fbe340" stroke-width="1.3" fill="none"/>
<path d="M1.7,580.0 L6.0,573.0 L10.3,573.8 L14.6,572.0 L18.9,543.2 L23.3,553.8 L27.6,548.0 L31.9,546.2 L36.2,560.5 L40.5,546.2 L44.9,539.5 L49.2,539.5 L53.5,556.2 L57.8,571.2 L62.1,578.0 L66.4,580.5 L70.8,572.5 L75.1,568.8 L79.4,565.0 L83.7,561.2 L88.0,517.0 L92.4,523.0 L96.7,508.8 L101.0,508.8 L105.3,515.8 L109.6,512.5 L113.9,535.5 L118.3,529.5 L122.6,522.5 L126.9,518.8 L131.2,516.2 L135.5,525.0 L139.8,505.0 L144.2,488.0 L148.5,485.5 L152.8,508.8 L157.1,517.5 L161.4,540.0 L165.8,530.0 L170.1,532.0 L174.4,535.0 L178.7,522.0 L183.0,532.0 L187.3,523.8 L191.7,515.0 L196.0,512.5 L200.3,506.8 L204.6,520.0 L208.9,525.0 L213.3,529.2 L217.6,526.2 L221.9,520.0 L226.2,516.8 L230.5,520.0 L234.8,545.5 L239.2,541.2 L243.5,536.2 L247.8,531.2 L252.1,528.0 L256.4,535.0 L260.8,515.0 L265.1,510.0 L269.4,508.0 L273.7,502.5 L278.0,530.0 L282.3,549.2 L286.7,535.0 L291.0,537.5 L295.3,545.0 L299.6,553.8 L303.9,545.5 L308.3,556.2 L312.6,553.8 L316.9,556.2 L321.2,561.2 L325.5,567.5 L329.8,572.0 L334.2,575.0 L338.5,576.8 L342.8,573.8 L347.1,573.0 L351.4,576.2 L355.8,582.0 L360.1,588.8 L364.4,577.5 L368.7,560.5 L373.0,558.8 L377.3,552.0 L381.7,557.5 L386.0,563.8 L390.3,560.0 L394.6,542.5 L398.9,533.8 L403.2,530.8 L407.6,529.5 L411.9,528.2 L416.2,536.2 L420.5,532.5 L424.8,542.5 L429.2,550.0 L433.5,557.5 L437.8,563.8 L442.1,553.8 L446.4,562.0 L450.7,555.5 L455.1,567.0 L459.4,561.2 L463.7,561.2 L468.0,564.5 L472.3,559.5 L476.7,557.5 L481.0,556.2 L485.3,558.8 L489.6,564.5 L493.9,567.5 L498.2,545.0 L506.9,528.8 L511.2,534.5 L515.5,526.2 L519.8,541.2 L524.2,551.2 L528.5,550.0 L532.8,545.0 L537.1,553.0 L541.4,542.5 L545.7,534.5 L550.1,527.0 L554.4,538.8 L558.7,536.2 L563.0,551.2 L567.3,566.2 L571.6,570.0 L576.0,566.2 L580.3,565.0 L584.6,555.0 L588.9,552.5 L593.2,552.5 L597.6,551.2 L601.9,545.0 L606.2,555.0 L610.5,551.2 L619.1,549.5 L623.5,547.5 L627.8,535.5 L632.1,545.0 L636.4,568.8 L640.7,555.0 L645.1,556.2 L649.4,572.5 L653.7,570.0 L658.0,566.2 L662.3,569.5 L666.6,567.0 L671.0,566.2 L675.3,568.0 L679.6,562.5 L683.9,555.0 L688.2,566.2 L692.6,575.0 L696.9,568.8 L701.2,567.0 L705.5,568.8 L709.8,573.8 L714.1,581.2 L718.5,585.0 L722.8,584.5 L727.1,593.8 L731.4,588.0 L735.7,591.2 L740.1,591.2 L744.4,591.2 L748.7,583.0 L753.0,582.0 L757.3,583.8 L761.6,607.0 L766.0,612.0 L770.3,608.8 L774.6,626.2 L778.9,598.8 L783.2,605.0 L787.5,575.0 L791.9,562.5 L796.2,561.2 L800.5,574.5 L804.8,572.0 L809.1,566.2 L813.5,554.2 L817.8,563.0 L822.1,564.5 L826.4,568.0 L830.7,554.5 L835.0,557.0 L839.4,562.0 L843.7,568.0 L848.0,567.5 L852.3,560.0 L856.6,583.8 L861.0,587.5 L865.3,601.2 L869.6,591.2 L873.9,587.0 L878.2,588.0 L882.5,590.5 L886.9,588.8 L891.2,593.8 L895.5,593.0 L899.8,600.0 L904.1,607.0 L908.5,598.2 L912.8,601.2 L917.1,600.8 L921.4,587.5 L925.7,575.0 L930.0,564.5 L934.4,569.2 L938.7,562.0 L943.0,555.8 L947.3,560.0 L951.6,564.5 L956.0,567.5 L960.3,565.0 L964.6,560.5 L968.9,558.8 L973.2,563.8 L977.5,559.2 L981.9,562.5 L986.2,561.2 L990.5,562.0 L994.8,556.2 L999.1,553.2 L1003.4,543.2 L1007.8,550.0 L1012.1,553.2 L1016.4,562.0 L1020.7,580.0 L1025.0,584.5 L1029.4,581.8 L1033.7,579.5" stroke="#7e57c2" stroke-width="2.3" fill="none" stroke-linejoin="round" stroke-linecap="round"/>
<g transform="translate(1034.1,465.4)"><circle r="9.2" fill="none" stroke="#9c27b0" stroke-width="1.3"/><path d="M1.6,-4.6L-3.4,0.9h2.6L-2.4,4.8L3.4,-0.9h-2.6z" fill="#9c27b0"/><circle cx="6.2" cy="-6" r="3.2" fill="#fff"/><circle cx="6.2" cy="-6" r="2.1" fill="#f23645"/></g>
<g fill="none" stroke-linecap="round">
<path d="M643.6,523.5A63.5,63.5 0 1 1 629.2,508.3" stroke="url(#teal)" stroke-width="4.6" stroke-linecap="butt"/>
<path d="M545.8,521.4 C547.2,520.2 550.9,516.5 554.0,514.5 C557.1,512.5 561.2,510.8 564.5,509.3 C567.8,507.9 570.8,506.7 574.0,505.8 C577.2,504.9 582.3,504.2 584.0,503.9" stroke="#3a9199" stroke-width="1.8"/>
<path d="M529.5,551.0 C530.4,549.0 532.8,542.7 535.1,539.1 C537.4,535.5 541.8,531.0 543.1,529.4" stroke="#1b4656" stroke-width="2.2"/>
<path d="M530.7,553.4 C531.8,552.0 534.6,547.5 537.0,545.0 C539.4,542.5 542.2,540.5 544.9,538.3 C547.6,536.1 550.2,533.8 553.0,532.0 C555.8,530.2 560.3,528.3 561.8,527.6" stroke="url(#gold)" stroke-width="2.9"/>
<path d="M533.3,560.5 C534.2,559.2 536.8,555.4 539.0,553.0 C541.2,550.6 544.2,548.5 546.7,546.3 C549.2,544.1 551.3,541.9 554.0,540.0 C556.7,538.1 561.2,535.6 562.7,534.7" stroke="url(#gold)" stroke-width="2.9"/>
<path d="M530.0,569.3 C531.2,567.5 534.5,562.1 537.3,558.7 C540.1,555.3 543.4,551.8 546.7,548.7 C550.0,545.6 553.8,542.3 557.3,540.0 C560.8,537.7 564.2,536.0 568.0,534.7 C571.8,533.4 576.0,532.5 580.0,532.0 C584.0,531.5 590.0,531.7 592.0,531.6" stroke="#1b4656" stroke-width="4.4"/>
<path d="M533.3,578.7 C534.4,577.1 537.3,572.4 540.0,569.3 C542.7,566.2 546.0,562.8 549.3,560.0 C552.6,557.2 556.4,554.7 560.0,552.7 C563.6,550.7 567.4,549.1 570.7,548.0 C574.0,546.9 578.5,546.5 580.0,546.2" stroke="#1b4656" stroke-width="4.4"/>
<path d="M536.0,585.3 C537.1,584.0 540.0,580.2 542.7,577.3 C545.4,574.4 548.7,570.7 552.0,568.0 C555.3,565.3 559.2,563.1 562.7,561.3 C566.2,559.5 569.3,558.3 573.3,557.3 C577.3,556.3 582.9,555.5 586.7,555.3 C590.5,555.0 594.5,555.7 596.0,555.8" stroke="#1b4656" stroke-width="4.4"/>
<path d="M538.7,591.3 C540.0,589.9 543.8,585.2 546.7,582.7 C549.6,580.2 552.7,577.7 556.0,576.0 C559.3,574.3 562.7,573.4 566.7,572.7 C570.7,572.0 577.8,572.1 580.0,572.0" stroke="#1b4656" stroke-width="4.4"/>
<path d="M544.7,600.0 C546.1,598.5 550.1,593.1 553.3,590.7 C556.5,588.3 560.7,586.7 564.0,585.6 C567.3,584.5 570.3,584.5 573.3,584.4 C576.3,584.3 580.5,584.9 582.0,585.0" stroke="#1b4656" stroke-width="4.4"/>
<path d="M597,534.8H598C615.6,534.8 615.6,556.5 598,556.5H592" stroke="#1b4656" stroke-width="8.6" stroke-linecap="butt"/>
<path d="M597,556.5H599C619.5,556.5 619.5,585.2 599,585.2H589" stroke="#1b4656" stroke-width="8.6" stroke-linecap="butt"/>
</g>
<path d="M578,529.6L598,530.5V539.1Q589,536.6 578,534.2Z M582,553.5L598,552.2V560.8Q590,559.2 582,557.9Z M574.5,582.3L590,580.9V589.5L572.4,589.8Z" fill="#1b4656"/>
<g fill="#1b4656"><rect x="577.8" y="509.8" width="7" height="15.6"/><rect x="592" y="509.8" width="7" height="22"/><rect x="577.8" y="587" width="7" height="20.6"/><rect x="592.2" y="587" width="7" height="20.6"/>
<circle cx="581.4" cy="546" r="3.7"/><circle cx="581.9" cy="571.7" r="3.7"/>
<circle cx="565.9" cy="598.2" r="3.2" fill="#163a4c"/>
<circle cx="560.9" cy="606.8" r="2.3" fill="#163a4c"/>
<circle cx="570.7" cy="608.2" r="2.3" fill="#163a4c"/>
<circle cx="576" cy="613.9" r="1.6" fill="#163a4c"/>
<circle cx="585" cy="614.8" r="2.0" fill="#163a4c"/>
</g>
<g fill="none" stroke-linecap="butt" stroke-width="2.8">
<path d="M610.7,526.7L626.7,511.3" stroke="url(#gold2)"/>
<path d="M616.7,531.3L635.3,513.3" stroke="url(#gold2)"/>
<path d="M620.7,538L638.7,520" stroke="url(#gold2)"/>
<path d="M622,547.3L642,527.3" stroke="url(#gold2)"/>
<path d="M620.7,557.3L644.7,533.3" stroke="url(#gold2)"/>
<path d="M644.7,546.7L649.3,542.7" stroke="#8a5518"/>
<path d="M631.3,567L650.7,549.6" stroke="url(#gold2)"/>
<path d="M628,577Q641,570 650.7,562.3" stroke="url(#gold2)"/>
<path d="M640,577L650,567.7" stroke="#7a4a12" stroke-width="2"/>
<path d="M624.7,562.3L628.7,559.7 M626,570.3L628,569 M614,593.7L618.7,591.7" stroke="#e9b233" stroke-width="2"/>
<path d="M611.3,603.7Q632,594 645.3,581" stroke="#7a4a12" stroke-width="3.0"/>
<path d="M597.3,614.3Q620,609 636,597" stroke="#2b1b0c" stroke-width="2.8"/>
<path d="M561.8,518.7L571.6,515.7" stroke="#e9b233" stroke-width="2"/>
</g>
<circle cx="555.6" cy="522.2" r="2.8" fill="#a87420"/>
<circle cx="568" cy="525.4" r="2.7" fill="#ecb535"/>
<circle cx="590.8" cy="503.2" r="2.2" fill="#ecb535"/>
<circle cx="603.3" cy="504.8" r="2.3" fill="#ecb535"/>
<circle cx="613.4" cy="512.1" r="3.6" fill="#e3a92f"/>
<circle cx="606.8" cy="520" r="2.2" fill="#ecb535"/>
<circle cx="643" cy="513.3" r="3.5" fill="#a36d1e"/>
<circle cx="634" cy="555.2" r="3.0" fill="#d39a2b"/>
<circle cx="640" cy="549.8" r="2.0" fill="#c08a26"/>
<circle cx="633.3" cy="581.7" r="3.2" fill="#b27c22"/>
<circle cx="625" cy="587.7" r="3.2" fill="#c08a26"/>
<circle cx="607.3" cy="595.7" r="2.7" fill="#c08a26"/>
<circle cx="605" cy="605.7" r="2.2" fill="#8a5a18"/>
</svg>
<div class="bx" style="left:1135px;top:33px;width:38px;height:1.6px;background:#0000ff"></div>
<div class="bx" style="left:1137px;top:6px;width:54px;height:24px;border:1px solid #e0e3eb;border-radius:4px;background:#fff"></div>
<div class="bx" style="left:1089.4px;top:188px;width:44.6px;height:15.0px;background:#f23645;border-radius:2px 0 0 2px"></div>
<div class="bx" style="left:1135px;top:188px;width:38.0px;height:15.0px;background:#f23645;border-radius:0 2px 2px 0"></div>
<div class="bx" style="left:1106.3px;top:203.7px;width:27.7px;height:14.3px;background:#2962ff;border-radius:2px 0 0 2px"></div>
<div class="bx" style="left:1135px;top:203.7px;width:38.0px;height:14.3px;background:#2962ff;border-radius:0 2px 2px 0"></div>
<div class="bx" style="left:1082.3px;top:218.4px;width:51.7px;height:15.1px;background:#26a69a;border-radius:2px 0 0 2px"></div>
<div class="bx" style="left:1135px;top:218.2px;width:56.0px;height:39.8px;background:#26a69a;border-radius:0 2px 2px 0"></div>
<div class="bx" style="left:1135px;top:262px;width:38.0px;height:15.2px;background:#0000ff;border-radius:2px"></div>
<div class="bx" style="left:1063.5px;top:557.3px;width:70.5px;height:14.0px;background:#ffeb3b;border-radius:2px 0 0 2px"></div>
<div class="bx" style="left:1135px;top:557.3px;width:38.0px;height:14.0px;background:#ffeb3b;border-radius:0 2px 2px 0"></div>
<div class="bx" style="left:1111.8px;top:573.4px;width:22.2px;height:14.0px;background:#7e57c2;border-radius:2px 0 0 2px"></div>
<div class="bx" style="left:1135px;top:573.4px;width:38.0px;height:14.0px;background:#7e57c2;border-radius:0 2px 2px 0"></div>
<div class="t " style="left:3.26px;top:9.20px;transform:scaleX(0.9728);">Toncoin/Tether, 1D, OKX</div>
<div class="t " style="left:126.62px;top:9.20px;transform:scaleX(0.8483);">O</div>
<div class="t g" style="left:134.07px;top:9.20px;transform:scaleX(0.9575);">5.333</div>
<div class="t " style="left:166.62px;top:9.20px;transform:scaleX(0.8507);">H</div>
<div class="t g" style="left:173.58px;top:9.20px;transform:scaleX(0.9387);">5.401</div>
<div class="t " style="left:206.33px;top:9.20px;transform:scaleX(0.8230);">L</div>
<div class="t g" style="left:211.86px;top:9.20px;transform:scaleX(0.9763);">5.305</div>
<div class="t " style="left:244.66px;top:9.20px;transform:scaleX(0.7656);">C</div>
<div class="t g" style="left:251.28px;top:9.20px;transform:scaleX(0.9387);">5.361</div>
<div class="t g" style="left:283.88px;top:9.20px;transform:scaleX(0.9253);">+0.029 (+0.54%)</div>
<div class="t " style="left:3.28px;top:24.60px;transform:scaleX(0.9421);">EMA (20, close)</div>
<div class="t b" style="left:82.55px;top:24.60px;transform:scaleX(0.9951);">5.563</div>
<div class="t " style="left:3.28px;top:39.60px;transform:scaleX(0.9421);">SMA (50, close)</div>
<div class="t r" style="left:82.57px;top:39.60px;transform:scaleX(0.9500);">5.631</div>
<div class="t " style="left:3.33px;top:483.70px;transform:scaleX(0.9325);">RSI (14, close)</div>
<div class="t p" style="left:77.83px;top:483.70px;transform:scaleX(0.9387);">42.87</div>
<div class="t y" style="left:110.32px;top:483.70px;transform:scaleX(0.9575);">50.76</div>
<div class="t " style="left:143.03px;top:483.40px;transform:scaleX(0.7118);color:#1e222d;font-family:DejaVu Sans;font-size:12px">∅</div>
<div class="t " style="left:157.03px;top:483.40px;transform:scaleX(0.7118);color:#1e222d;font-family:DejaVu Sans;font-size:12px">∅</div>
<div class="t " style="left:170.53px;top:483.40px;transform:scaleX(0.7118);color:#1e222d;font-family:DejaVu Sans;font-size:12px">∅</div>
<div class="t " style="left:183.78px;top:483.40px;transform:scaleX(0.7118);color:#1e222d;font-family:DejaVu Sans;font-size:12px">∅</div>
<div class="t ax" style="left:1141.76px;top:39.50px;transform:scaleX(0.9688);">8.000</div>
<div class="t ax" style="left:1141.76px;top:73.42px;transform:scaleX(0.9688);">7.500</div>
<div class="t ax" style="left:1141.76px;top:107.35px;transform:scaleX(0.9688);">7.000</div>
<div class="t ax" style="left:1141.76px;top:141.27px;transform:scaleX(0.9688);">6.500</div>
<div class="t ax" style="left:1141.76px;top:175.20px;transform:scaleX(0.9688);">6.000</div>
<div class="t ax" style="left:1141.76px;top:276.97px;transform:scaleX(0.9688);">4.500</div>
<div class="t ax" style="left:1141.76px;top:310.90px;transform:scaleX(0.9688);">4.000</div>
<div class="t ax" style="left:1141.76px;top:344.82px;transform:scaleX(0.9688);">3.500</div>
<div class="t ax" style="left:1141.76px;top:378.75px;transform:scaleX(0.9688);">3.000</div>
<div class="t ax" style="left:1141.76px;top:412.67px;transform:scaleX(0.9688);">2.500</div>
<div class="t ax" style="left:1141.76px;top:446.60px;transform:scaleX(0.9688);">2.000</div>
<div class="t ax" style="left:1141.76px;top:497.38px;transform:scaleX(0.9801);">80.00</div>
<div class="t ax" style="left:1141.76px;top:538.08px;transform:scaleX(0.9801);">60.00</div>
<div class="t ax" style="left:1141.76px;top:578.79px;transform:scaleX(0.9801);">40.00</div>
<div class="t ax" style="left:1141.76px;top:619.50px;transform:scaleX(0.9801);">20.00</div>
<div class="t " style="left:87.62px;top:639.80px;transform:scaleX(0.9583);-webkit-text-stroke:0.4px currentColor">Mar</div>
<div class="t " style="left:222.29px;top:639.80px;transform:scaleX(1.0169);-webkit-text-stroke:0.4px currentColor">Apr</div>
<div class="t " style="left:350.21px;top:639.80px;transform:scaleX(0.9808);-webkit-text-stroke:0.4px currentColor">May</div>
<div class="t " style="left:485.61px;top:639.80px;transform:scaleX(0.9792);-webkit-text-stroke:0.4px currentColor">Jun</div>
<div class="t " style="left:616.29px;top:639.80px;transform:scaleX(1.0256);-webkit-text-stroke:0.4px currentColor;opacity:.45">Jul</div>
<div class="t " style="left:747.80px;top:639.80px;transform:scaleX(0.9905);-webkit-text-stroke:0.4px currentColor">Aug</div>
<div class="t " style="left:882.33px;top:639.80px;transform:scaleX(0.9369);-webkit-text-stroke:0.4px currentColor">Sep</div>
<div class="t " style="left:1012.06px;top:639.80px;transform:scaleX(0.9861);-webkit-text-stroke:0.4px currentColor">Oct</div>
<div class="t " style="left:1101.33px;top:639.80px;transform:scaleX(0.9251);-webkit-text-stroke:0.4px currentColor">21</div>
<div class="t " style="left:1145.43px;top:11.60px;transform:scaleX(0.8226);">USDT</div>
<div class="t w" style="left:1092.90px;top:188.70px;transform:scaleX(0.8799);">SMA:MA</div>
<div class="t w" style="left:1141.77px;top:188.70px;transform:scaleX(0.9538);">5.631</div>
<div class="t w" style="left:1110.41px;top:204.10px;transform:scaleX(0.8673);">EMA</div>
<div class="t w" style="left:1141.77px;top:204.10px;transform:scaleX(0.9538);">5.563</div>
<div class="t w" style="left:1086.23px;top:219.00px;transform:scaleX(0.8297);">TONUSDT</div>
<div class="t w" style="left:1141.77px;top:219.00px;transform:scaleX(0.9538);">5.361</div>
<div class="t w" style="left:1141.80px;top:231.50px;transform:scaleX(0.8967);">+162.02%</div>
<div class="t w" style="left:1141.77px;top:244.40px;transform:scaleX(0.9540);opacity:.72">08:54:01</div>
<div class="t w" style="left:1141.76px;top:262.90px;transform:scaleX(0.9688);">4.720</div>
<div class="t " style="left:1067.00px;top:557.50px;transform:scaleX(0.8948);">RSI-based MA</div>
<div class="t " style="left:1142.07px;top:557.50px;transform:scaleX(0.9575);">50.76</div>
<div class="t w" style="left:1115.74px;top:573.60px;transform:scaleX(0.7911);">RSI</div>
<div class="t w" style="left:1142.07px;top:573.60px;transform:scaleX(0.9575);">42.87</div>
<div id="fa" style="left:514px;top:633.5px;font-size:19.6px;transform:scaleX(0.9766)">مجله ارز دیجیتال</div>
<svg style="position:absolute;left:0;top:671.2px" width="13.5" height="7.7" viewBox="0 0 14 8"><path d="M0,0H5V8H2V3H0z M6,1.6a1.6,1.6 0 1 0 3.2,0a1.6,1.6 0 1 0 -3.2,0z M10.5,0H14L11,8H7.5z" fill="#131722"/></svg>
<div class="t" style="left:16.6px;top:667px;font-size:11.6px;height:18px;line-height:18px;color:#1e222d;-webkit-text-stroke:0.3px #1e222d">TradingView</div>
</div></body></html>
